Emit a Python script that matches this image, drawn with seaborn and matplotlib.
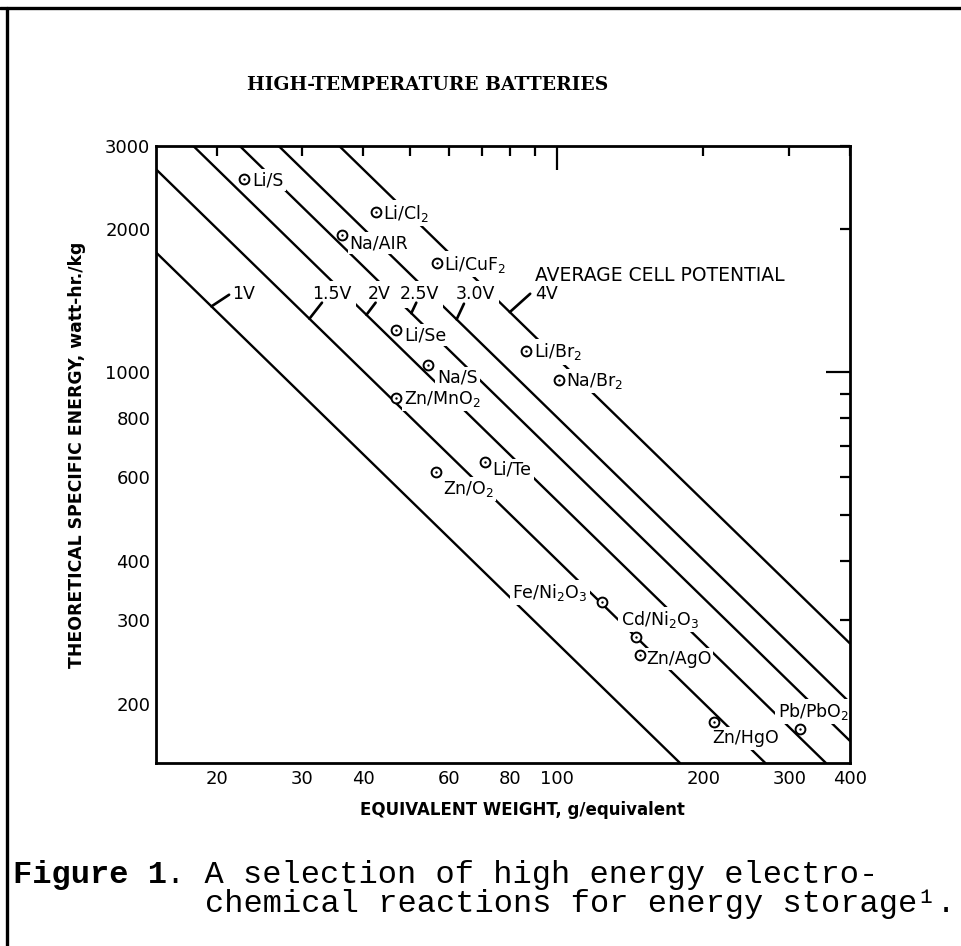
import numpy as np
import pandas as pd
import matplotlib
matplotlib.use("Agg")
import matplotlib.pyplot as plt
import seaborn as sns
from matplotlib.lines import Line2D

# Lines of constant average cell potential, end points along each line
potential_labels = ["1V", "1.5V", "2V", "2.5V", "3.0V", "4V"]
line_start_ew = [15.0, 15.0, 17.9, 22.3, 26.8, 35.7]
line_start_energy = [1790, 2680, 3000, 3000, 3000, 3000]
line_end_ew = [179, 268, 357, 400, 400, 400]
line_end_energy = [150, 150, 150, 167, 201, 268]

# Electrochemical couples: equivalent weight (g/equiv) and specific energy (Wh/kg)
reactions = ["Li/S", "Li/Cl$_2$", "Na/AIR", "Li/CuF$_2$", "Li/Se", "Na/S",
             "Zn/MnO$_2$", "Li/Br$_2$", "Na/Br$_2$", "Zn/O$_2$", "Li/Te",
             "Fe/Ni$_2$O$_3$", "Cd/Ni$_2$O$_3$", "Zn/AgO", "Zn/HgO", "Pb/PbO$_2$"]
equivalent_weight = [22.8, 42.4, 36.1, 56.6, 46.8, 54.3, 46.8, 86.5, 101,
                     56.4, 71.0, 124, 145, 148, 210, 315]
specific_energy = [2555, 2175, 1947, 1698, 1229, 1034, 883, 1108, 965,
                   615, 648, 328, 276, 253, 183, 177]

x_major = [100]
x_major_labels = ["100"]
x_minor = [20, 30, 40, 50, 60, 70, 80, 90, 200, 300, 400]
x_minor_labels = ["20", "30", "40", "", "60", "", "80", "", "200", "300", "400"]
y_major = [1000]
y_major_labels = ["1000"]
y_minor = [200, 300, 400, 500, 600, 700, 800, 900, 2000, 3000]
y_minor_labels = ["200", "300", "400", "", "600", "", "800", "", "2000", "3000"]

sns.set_style("white")
plt.rcParams["font.family"] = ["DejaVu Sans"]
plt.rcParams["mathtext.default"] = "regular"
plt.rcParams["text.color"] = "black"
plt.rcParams["axes.labelcolor"] = "black"

fig = plt.figure(figsize=(9.61, 9.46), dpi=100)
ax = fig.add_axes([0.1623, 0.1934, 0.7222, 0.6523])

lines_df = pd.DataFrame({
    "potential": potential_labels * 2,
    "ew": line_start_ew + line_end_ew,
    "energy": line_start_energy + line_end_energy,
})
sns.lineplot(data=lines_df, x="ew", y="energy", units="potential",
             estimator=None, sort=False, color="black", lw=1.7, ax=ax,
             zorder=2)

ax.set_xscale("log")
ax.set_yscale("log")
ax.set_xlim(15, 400)
ax.set_ylim(150, 3000)

# reaction markers: open circle with a centre dot
sns.scatterplot(x=equivalent_weight, y=specific_energy, marker="o", s=50,
                facecolor="white", edgecolor="black", linewidth=1.4,
                ax=ax, zorder=6)
sns.scatterplot(x=equivalent_weight, y=specific_energy, marker="o", s=3,
                color="black", linewidth=0, ax=ax, zorder=7)

# label offsets in pixels: (dx right, shift down of cap centre), alignment
label_layout = {
    "Li/S": (8, 0, "left"),
    "Li/Cl$_2$": (7, 0, "left"),
    "Na/AIR": (8, 7, "left"),
    "Li/CuF$_2$": (7, 0, "left"),
    "Li/Se": (8, 4, "left"),
    "Na/S": (9, 11, "left"),
    "Zn/MnO$_2$": (8, 0, "left"),
    "Li/Br$_2$": (8, 0, "left"),
    "Na/Br$_2$": (7, 0, "left"),
    "Zn/O$_2$": (7, 15, "left"),
    "Li/Te": (8, 7, "left"),
    "Fe/Ni$_2$O$_3$": (-15, -10, "right"),
    "Cd/Ni$_2$O$_3$": (-15, -19, "left"),
    "Zn/AgO": (6, 2, "left"),
    "Zn/HgO": (-2, 15, "left"),
    "Pb/PbO$_2$": (-22, -18, "left"),
}
px = 0.72
label_size = 12.5
half_cap = 0.73 * label_size / 0.72 / 2
white_box = dict(boxstyle="square,pad=0.12", fc="white", ec="none")
for name, ew, en in zip(reactions, equivalent_weight, specific_energy):
    dx, shift, ha = label_layout[name]
    ax.annotate(name, xy=(ew, en), xytext=(dx * px, -(shift + half_cap) * px),
                textcoords="offset points", ha=ha, va="baseline",
                fontsize=label_size, bbox=white_box, zorder=4)

# potential labels with leaders to their lines
label_x = [21.5, 31.4, 40.8, 47.5, 61.9, 90.0]
leader_on_line = [19.5, 31.0, 40.6, 50.2, 62.2, 80.0]
leader_end = [(21.2, 1457), (32.9, 1402), (42.4, 1402), (51.4, 1402),
              (64.4, 1395), (88.1, 1464)]
for i, lab in enumerate(potential_labels):
    x0, x1 = np.log10(line_start_ew[i]), np.log10(line_end_ew[i])
    y0, y1 = np.log10(line_start_energy[i]), np.log10(line_end_energy[i])
    xe = np.log10(leader_on_line[i])
    ye = y0 + (y1 - y0) * (xe - x0) / (x1 - x0)
    ax.text(label_x[i], 1460, lab, ha="left", va="center", fontsize=12.5,
            bbox=dict(boxstyle="square,pad=0.25", fc="white", ec="none"),
            zorder=4)
    ax.annotate("", xy=(10 ** xe, 10 ** ye), xytext=leader_end[i],
                arrowprops=dict(arrowstyle="-", lw=1.9, color="black",
                                shrinkA=0, shrinkB=0),
                zorder=5)

ax.text(90.0, 1597, "AVERAGE CELL POTENTIAL", ha="left", va="center",
        fontsize=13.5, zorder=4)

# ticks on all four sides, pointing inward
ax.set_xticks(x_major, x_major_labels)
ax.set_xticks(x_minor, x_minor_labels, minor=True)
ax.set_yticks(y_major, y_major_labels)
ax.set_yticks(y_minor, y_minor_labels, minor=True)
ax.tick_params(which="both", direction="in", top=True, right=True,
               width=1.6, labelsize=13, colors="black")
ax.tick_params(which="major", length=17)
ax.tick_params(which="minor", length=7)
ax.tick_params(axis="x", which="both", pad=5)
ax.tick_params(axis="y", which="both", pad=4)
for sp in ax.spines.values():
    sp.set_linewidth(2.0)
    sp.set_color("black")
    sp.set_zorder(8)

ax.set_xlabel("EQUIVALENT WEIGHT, g/equivalent", fontsize=12,
              fontweight="bold", va="center")
ax.xaxis.set_label_coords(0.528, -0.076)
ax.set_ylabel("THEORETICAL SPECIFIC ENERGY, watt-hr./kg", fontsize=12.4,
              fontweight="bold", va="center")
ax.yaxis.set_label_coords(-0.114, 0.499)

fig.text(428 / 961, 1 - 85 / 946, "HIGH-TEMPERATURE BATTERIES",
         family="DejaVu Serif", weight="bold", fontsize=13.5,
         ha="center", va="center")

# caption in typewriter face
cap_size = 23
col_w = 0.6 * cap_size / 72 * 100 / 961
x_cap = 13 / 961
fig.text(x_cap, 1 - 875 / 946, "Figure 1", family="Liberation Mono",
         weight="bold", fontsize=cap_size, ha="left", va="center")
fig.text(x_cap + 8 * col_w, 1 - 875 / 946,
         ". A selection of high energy electro-",
         family="Liberation Mono", fontsize=cap_size, ha="left", va="center")
fig.text(x_cap + 10 * col_w, 1 - 904 / 946,
         "chemical reactions for energy storage\u00b9.",
         family="Liberation Mono", fontsize=cap_size, ha="left", va="center")

# page frame
fig.add_artist(Line2D([0, 1], [1 - 8 / 946, 1 - 8 / 946], color="black",
                      lw=2.4, transform=fig.transFigure))
fig.add_artist(Line2D([7 / 961, 7 / 961], [0, 1 - 8 / 946], color="black",
                      lw=2.4, transform=fig.transFigure))

fig.savefig("out.png", dpi=100, facecolor="white")
